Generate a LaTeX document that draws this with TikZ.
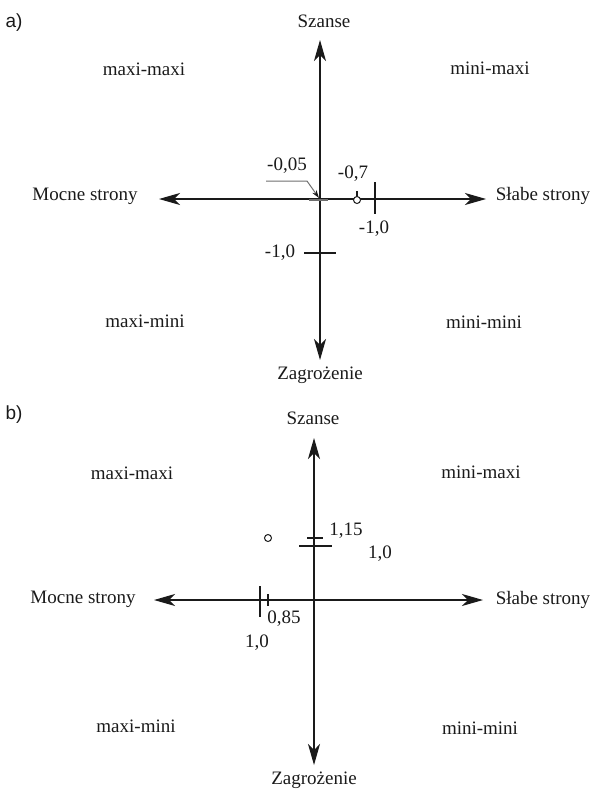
\documentclass[tikz,border=0pt]{standalone}
\usepackage{fontspec}
\setmainfont{Liberation Serif}
\setsansfont{Liberation Sans}
\usetikzlibrary{arrows.meta,positioning,calc}
\definecolor{axisdark}{HTML}{1A1A1A}
\definecolor{leadgray}{HTML}{6E6E6E}
\tikzset{
  axis/.style={{Stealth[length=21pt,width=12pt,inset=6pt]}-{Stealth[length=21pt,width=12pt,inset=6pt]},
    line width=1.1pt, color=axisdark},
  axlabel/.style={font=\fontsize{19}{22}\selectfont, text=axisdark, inner sep=0pt},
  quad/.style={font=\fontsize{19}{22}\selectfont, text=axisdark, inner sep=0pt},
  val/.style={font=\fontsize{19}{22}\selectfont, text=axisdark, inner sep=0pt},
  panel/.style={font=\sffamily\fontsize{19}{22}\selectfont, text=axisdark, inner sep=0pt},
  tick/.style={line width=1.1pt, color=axisdark},
  leader/.style={-{Stealth[length=8pt,width=5pt,color=axisdark]}, line width=1pt, color=leadgray},
  dotmark/.style={draw=axisdark, line width=1pt, fill=white},
}
\begin{document}
\begin{tikzpicture}[x=1pt,y=-1pt]
  \useasboundingbox (0,0) rectangle (595,789);
  % a)
  \node[panel] (pa) at (14,23) {a)};
  \begin{scope}[shift={(320,199)}]
    \coordinate (aN) at (0,-159);
    \coordinate (aS) at (0,161);
    \coordinate (aW) at (-161,0);
    \coordinate (aE) at (166,0);
    \node[axlabel] (aszanse) at (4,-178) {Szanse};
    \node[axlabel] (azagr) at (0,176) {Zagrożenie};
    \node[axlabel] (amocne) at (-235,-3) {Mocne strony};
    \node[axlabel] (aslabe) at (223,-3) {Słabe strony};
    \node[quad] (amm) at (-176,-130) {maxi-maxi};
    \node[quad] (anm) at (170,-131) {mini-maxi};
    \node[quad] (amn) at (-175,122) {maxi-mini};
    \node[quad] (ann) at (164,123) {mini-mini};
    \draw[axis] (aN) -- (aS);
    \draw[axis] (aW) -- (aE);
    % values
    \draw[line width=2pt, color=leadgray] (-11,1) -- (8,1);
    \node[val] (av1) at (-33,-33) {-0,05};
    \coordinate (al1) at (-54,-18);
    \coordinate (al2) at (-13,-18);
    \coordinate (al3) at (-1,-1);
    \draw[leader] (al1) -- (al2) -- (al3);
    \node[val] (av2) at (33,-25) {-0,7};
    \draw[tick] (37,-8) -- (37,0);
    \node[dotmark, circle, minimum size=7pt, inner sep=0pt] (ac) at (37,1) {};
    \draw[tick] (55,-17) -- (55,15);
    \node[val] (av3) at (54,30) {-1,0};
    \draw[tick] (-16,54) -- (16,54);
    \node[val] (av4) at (-40,54) {-1,0};
  \end{scope}
  % b)
  \node[panel] (pb) at (14,415) {b)};
  \begin{scope}[shift={(314,600)}]
    \coordinate (bN) at (0,-162);
    \coordinate (bS) at (0,165);
    \coordinate (bW) at (-160,0);
    \coordinate (bE) at (169,0);
    \node[axlabel] (bszanse) at (-1,-182) {Szanse};
    \node[axlabel] (bzagr) at (0,180) {Zagrożenie};
    \node[axlabel] (bmocne) at (-231,-1) {Mocne strony};
    \node[axlabel] (bslabe) at (229,0) {Słabe strony};
    \node[quad] (bmm) at (-182,-127) {maxi-maxi};
    \node[quad] (bnm) at (167,-128) {mini-maxi};
    \node[quad] (bmn) at (-178,126) {maxi-mini};
    \node[quad] (bnn) at (166,128) {mini-mini};
    \draw[axis] (bN) -- (bS);
    \draw[axis] (bW) -- (bE);
    % values
    \node[dotmark, circle, minimum size=7pt, inner sep=0pt] (bc) at (-46,-62) {};
    \draw[tick] (-15,-54) -- (18,-54);
    \draw[tick] (-7,-62) -- (9,-62);
    \node[val] (bv1) at (32,-69) {1,15};
    \node[val] (bv2) at (66,-46) {1,0};
    \draw[tick] (-54,-14) -- (-54,17);
    \draw[tick] (-46,-6) -- (-46,6);
    \node[val] (bv3) at (-30,19) {0,85};
    \node[val] (bv4) at (-57,43) {1,0};
  \end{scope}
\end{tikzpicture}
\end{document}
